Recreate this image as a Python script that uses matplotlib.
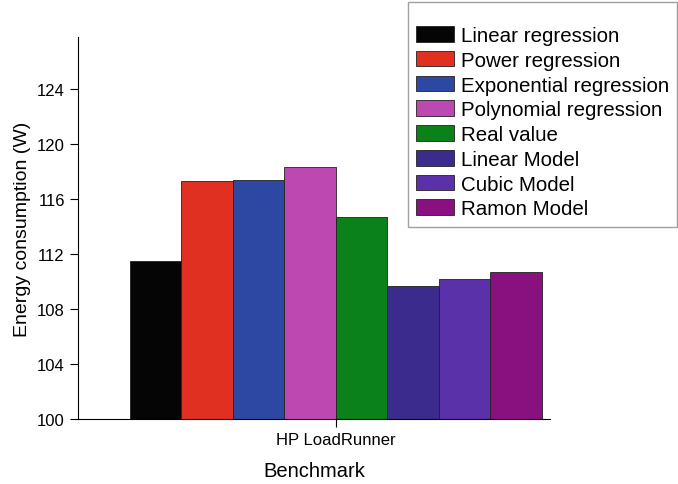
import matplotlib
matplotlib.use("Agg")
import matplotlib.pyplot as plt
import numpy as np

# data
labels = ["Linear regression", "Power regression", "Exponential regression",
          "Polynomial regression", "Real value", "Linear Model",
          "Cubic Model", "Ramon Model"]
values = [111.5, 117.3, 117.4, 118.3, 114.7, 109.65, 110.2, 110.7]
colors = ["#050505", "#df3022", "#2d48a2", "#bc49b1", "#0b8219",
          "#3a2b8c", "#5b31a9", "#88117f"]
benchmark = ["HP LoadRunner"]

plt.rcParams['font.family'] = ['Liberation Sans', 'DejaVu Sans']

fig = plt.figure(figsize=(6.78, 4.85), dpi=100)
ax = fig.add_axes([0.115, 0.134, 0.696, 0.788])

w = 0.11
n = len(values)
offsets = (np.arange(n) - (n - 1) / 2) * w
for off, v, c, lab in zip(offsets, values, colors, labels):
    ax.bar(0 + off, v - 100, bottom=100, width=w, color=c,
           edgecolor="#222222", linewidth=0.6, label=lab)

ax.set_ylim(100, 127.8)
ax.set_xlim(-0.55, 0.457)
ax.set_yticks([100, 104, 108, 112, 116, 120, 124])
ax.set_xticks([0])
ax.set_xticklabels(benchmark)
ax.spines['top'].set_visible(False)
ax.spines['right'].set_visible(False)
ax.tick_params(direction='out', labelsize=12, length=6)
ax.set_ylabel("Energy consumption (W)", fontsize=14)
ax.set_xlabel("Benchmark", fontsize=14.5, labelpad=10)

leg = fig.legend(loc='upper right', bbox_to_anchor=(677 / 678, 1 - 3 / 485),
                 fontsize=14.8, fancybox=False, edgecolor="#888888",
                 handlelength=1.85, handleheight=0.8, labelspacing=0.28,
                 handletextpad=0.3, borderpad=0.4, borderaxespad=0,
                 title=" ", title_fontsize=7)

plt.savefig("out.png")
